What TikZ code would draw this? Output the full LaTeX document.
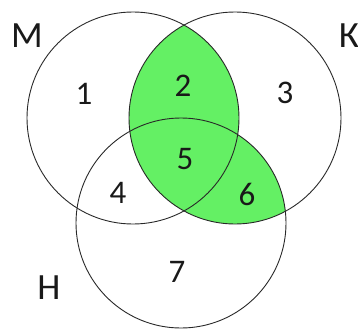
\documentclass[tikz,border=0pt]{standalone}
\usepackage{fontspec}
\setmainfont{Carlito}
\definecolor{vgreen}{RGB}{100,240,100}
\definecolor{vline}{RGB}{40,40,40}
\begin{document}
\begin{tikzpicture}[x=1pt,y=-1pt,
  circ/.style={draw=vline,line width=0.9pt},
  num/.style={font=\fontsize{33}{33}\selectfont,text=black!90,inner sep=0pt},
  setlabel/.style={font=\fontsize{37}{37}\selectfont,text=black!90,inner sep=0pt}]
\useasboundingbox (0,0) rectangle (358,329);
\coordinate (cM) at (133,118);
\coordinate (cK) at (235,118);
\coordinate (cH) at (181,223);
\begin{scope}
  \clip (cK) circle[radius=106];
  \fill[vgreen] (cM) circle[radius=106];
  \fill[vgreen] (cH) circle[radius=105];
\end{scope}
\draw[circ] (cM) circle[radius=106];
\draw[circ] (cK) circle[radius=106];
\draw[circ] (cH) circle[radius=105];
\node[setlabel] (lM) at (27,36) {М};
\node[setlabel] (lK) at (349,36) {К};
\node[setlabel] (lH) at (49,288) {Н};
\node[num] (n1) at (84,94) {1};
\node[num] (n2) at (183,86) {2};
\node[num] (n3) at (285,93) {3};
\node[num] (n4) at (118,193) {4};
\node[num] (n5) at (185,159) {5};
\node[num] (n6) at (247,194) {6};
\node[num] (n7) at (177,272) {7};
\end{tikzpicture}
\end{document}
